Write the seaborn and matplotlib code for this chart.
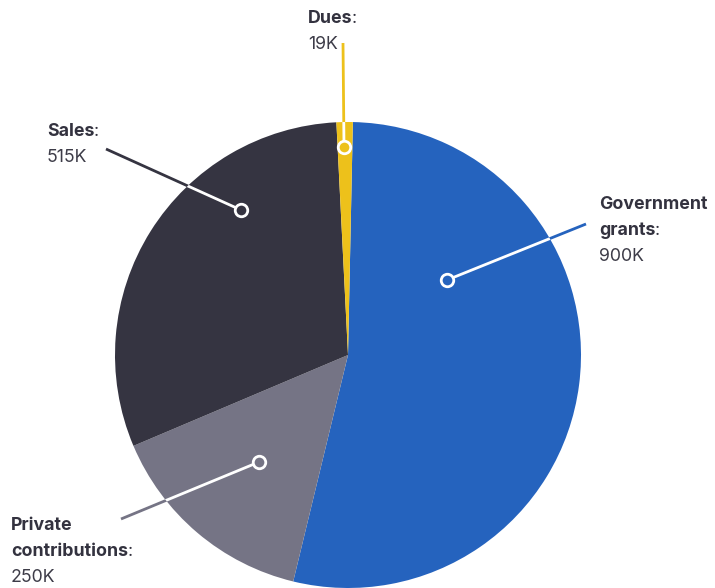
import matplotlib
matplotlib.use("Agg")
import matplotlib.pyplot as plt
import seaborn as sns

# ---- data ----
categories = ["Government grants", "Private contributions", "Sales", "Dues"]
values = [900, 250, 515, 19]
value_labels = ["900K", "250K", "515K", "19K"]
colors = ["#2563be", "#757485", "#353441", "#edc11b"]

sns.set_theme(style="white")
plt.rcParams["font.family"] = ["Inter", "DejaVu Sans"]

W, H = 715, 588
fig = plt.figure(figsize=(W / 100, H / 100), dpi=100)
ax = fig.add_axes([0, 0, 1, 1])

def P(px, py):
    return px, H - py

cx, cy = P(348, 355)
R = 233
wedges, _ = ax.pie(values, colors=colors, startangle=88.8, counterclock=False,
                   center=(cx, cy), radius=R, wedgeprops=dict(linewidth=0))
ax.set_xlim(0, W)
ax.set_ylim(0, H)
ax.set_aspect("equal")
ax.axis("off")

# layout for labels: (dot px, line end px, text x, first baseline y, name lines)
layout = {
    "Government grants": dict(dot=(447, 280), end=(586, 224), tx=599, ty=209,
                              lines=["Government", "grants"]),
    "Private contributions": dict(dot=(259, 462), end=(121, 519), tx=11, ty=530,
                                  lines=["Private", "contributions"]),
    "Sales": dict(dot=(241, 210), end=(106, 149), tx=47, ty=136,
                  lines=["Sales"]),
    "Dues": dict(dot=(344, 147), end=(343, 43), tx=308, ty=23,
                 lines=["Dues"]),
}

txt_color = "#33323f"
fs = 12.8
lh = 26

for cat, col, w, vlab in zip(categories, colors, wedges, value_labels):
    L = layout[cat]
    x0, y0 = P(*L["dot"])
    x1, y1 = P(*L["end"])
    ax.plot([x0, x1], [y0, y1], color=col, lw=2, solid_capstyle="butt", zorder=3)
    wl, = ax.plot([x0, x1], [y0, y1], color="white", lw=2, solid_capstyle="butt", zorder=4)
    wl.set_clip_path(w)
    ax.plot([x0], [y0], marker="o", ms=9, mfc=col, mec="white", mew=2, zorder=5)
    tx = L["tx"]
    by = L["ty"]
    last = None
    for i, ln in enumerate(L["lines"]):
        last = ax.text(tx, H - (by + i * lh), ln, fontsize=fs, fontweight="bold",
                       color=txt_color, ha="left", va="baseline")
    ax.annotate(":", xy=(1, 0), xycoords=last, xytext=(-0.3, 0), textcoords="offset points",
                fontsize=fs, color=txt_color, ha="left", va="bottom")
    n = len(L["lines"])
    ax.text(tx, H - (by + n * lh), vlab, fontsize=fs, color="#3d3c48",
            ha="left", va="baseline")

fig.savefig("out.png", dpi=100)
